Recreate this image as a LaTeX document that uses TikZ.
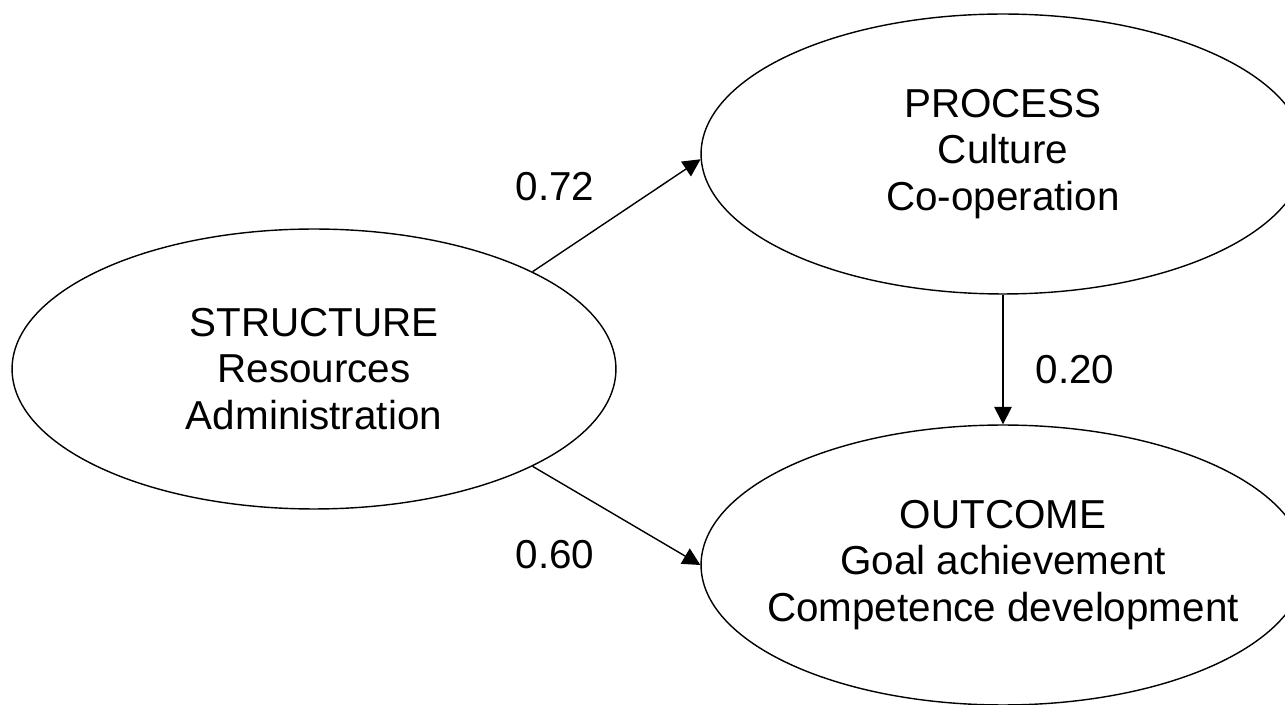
\documentclass[tikz,border=0pt]{standalone}
\usepackage{fontspec}
\setmainfont{Liberation Sans}
\usetikzlibrary{shapes.geometric,arrows.meta}
\tikzstyle{path model}=[
    ->,>={Triangle[length=10pt,width=10pt]},line width=0.8pt,
    x=0.02cm,y=-0.02cm,
    every node/.style={
        align=center,
        font=\fontsize{23}{26.6}\selectfont,
    },
    construct/.style={
        ellipse, draw,
        minimum width=12.08cm,
        minimum height=5.6cm,
        inner sep=0pt, inner xsep=-20pt,
}]
\newcommand{\factorlabel}[3]{#1\\#2\\#3}

\begin{document}
\begin{tikzpicture}[path model]
        \useasboundingbox (0,0) rectangle (1285,705);
        \node[construct] (structure) at (314,369) {\factorlabel{STRUCTURE}{Resources}{Administration}};
        \node[construct] (process) at (1003,154) {\factorlabel{PROCESS}{Culture}{Co-operation}};
        \node[construct] (outcome) at (1003,565) {\factorlabel{OUTCOME}{Goal achievement}{Competence development}};

        % path coefficients
        \node (w72) at (555,187) {0.72};
        \node (w60) at (555,555) {0.60};
        \node (w20) at (1075,370) {0.20};

        \path
            (structure.24) edge (process.181)
            (structure.-24) edge (outcome.west)
            (process.south) edge (outcome.north)
        ;
    \end{tikzpicture}
\end{document}
